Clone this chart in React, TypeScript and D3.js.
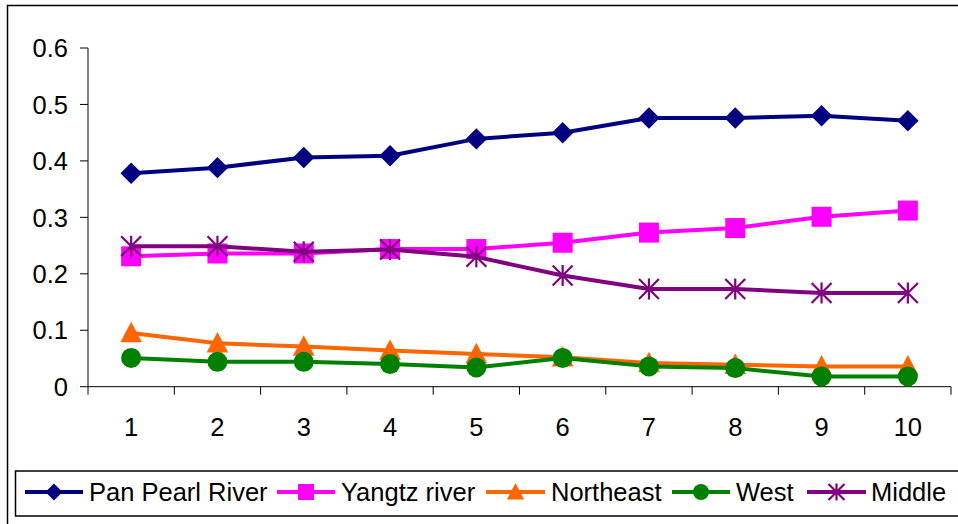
import React from "react";
import * as d3 from "d3";

const categories = ["1", "2", "3", "4", "5", "6", "7", "8", "9", "10"];
const yTicks = [0, 0.1, 0.2, 0.3, 0.4, 0.5, 0.6];

const panPearl = [0.378, 0.388, 0.406, 0.409, 0.439, 0.45, 0.476, 0.476, 0.48, 0.471];
const yangtz = [0.231, 0.236, 0.236, 0.244, 0.244, 0.255, 0.273, 0.281, 0.301, 0.312];
const northeast = [0.095, 0.077, 0.071, 0.064, 0.058, 0.052, 0.042, 0.039, 0.036, 0.036];
const west = [0.051, 0.044, 0.044, 0.04, 0.034, 0.051, 0.036, 0.033, 0.018, 0.018];
const middle = [0.249, 0.249, 0.239, 0.243, 0.23, 0.197, 0.173, 0.173, 0.166, 0.166];

const seriesNames = ["Pan Pearl River", "Yangtz river", "Northeast", "West", "Middle"];
const seriesColors = ["#000080", "#FF00FF", "#FF6600", "#008000", "#800080"];
const seriesShapes = ["diamond", "square", "triangle", "circle", "star"];
const seriesValues = [panPearl, yangtz, northeast, west, middle];

const FONT = "'Liberation Sans', Arial, sans-serif";

function Marker({ shape, x, y, color, s }: { shape: string; x: number; y: number; color: string; s: number }) {
  if (shape === "diamond") {
    const r = 10.7 * s;
    return <path d={`M${x},${y - r}L${x + r},${y}L${x},${y + r}L${x - r},${y}Z`} fill={color} />;
  }
  if (shape === "square") {
    const r = 10 * s;
    return <rect x={x - r} y={y - r} width={2 * r} height={2 * r} fill={color} />;
  }
  if (shape === "triangle") {
    const w = 10.8 * s;
    const h = 20.5 * s;
    return <path d={`M${x},${y - h * 0.55}L${x + w},${y + h * 0.45}L${x - w},${y + h * 0.45}Z`} fill={color} />;
  }
  if (shape === "circle") {
    return <circle cx={x} cy={y} r={10 * s} fill={color} />;
  }
  const r = 10.5 * s;
  const d = r * 0.95;
  return (
    <path
      d={`M${x},${y - r}L${x},${y + r}M${x - d},${y - d}L${x + d},${y + d}M${x - d},${y + d}L${x + d},${y - d}`}
      stroke={color}
      strokeWidth={2.2}
      fill="none"
    />
  );
}

export default function App() {
  const W = 958;
  const H = 524;
  const left = 88;
  const right = 951;
  const top = 48;
  const bottom = 386.7;

  const x = d3.scalePoint<string>().domain(categories).range([left, right]).padding(0.5);
  const y = d3.scaleLinear().domain([0, 0.6]).range([bottom, top]);
  const step = (right - left) / categories.length;

  const line = d3
    .line<number>()
    .x((_, i) => x(categories[i]) as number)
    .y((v) => y(v));

  const legendLineStart = [25, 277, 486, 672, 807];
  const legendLineEnd = [83, 335, 545, 730, 866];
  const legendTextX = [89, 341, 551, 736, 871];
  const legendY = 492;

  return (
    <svg
      width={W}
      height={H}
      style={{ position: "absolute", left: 0, top: 0, display: "block" }}
      fontFamily={FONT}
    >
      <rect x={0} y={0} width={W} height={H} fill="#fff" />
      {/* outer border */}
      <path d={`M${W + 2},5.5H7.5V${H + 2}`} fill="none" stroke="#000" strokeWidth={1.5} />

      {/* y axis */}
      <line x1={left} x2={left} y1={top} y2={bottom} stroke="#000" strokeWidth={1} />
      {yTicks.map((t) => (
        <g key={t}>
          <line x1={left - 8} x2={left} y1={y(t)} y2={y(t)} stroke="#000" />
          <text x={68} y={y(t)} dy="0.36em" textAnchor="end" fontSize={25.5} fill="#000">
            {t === 0 ? "0" : d3.format(".1f")(t)}
          </text>
        </g>
      ))}

      {/* x axis */}
      <line x1={left} x2={right} y1={bottom} y2={bottom} stroke="#000" strokeWidth={1} />
      {d3.range(categories.length + 1).map((i) => (
        <line key={i} x1={left + i * step} x2={left + i * step} y1={bottom} y2={bottom + 8} stroke="#000" />
      ))}
      {categories.map((c) => (
        <text key={c} x={x(c)} y={427} dy="0.36em" textAnchor="middle" fontSize={25.5} fill="#000">
          {c}
        </text>
      ))}

      {/* series */}
      {seriesValues.map((vals, si) => (
        <g key={si}>
          <path d={line(vals) || ""} fill="none" stroke={seriesColors[si]} strokeWidth={4} strokeLinejoin="round" />
          {vals.map((v, i) => (
            <Marker key={i} shape={seriesShapes[si]} x={x(categories[i]) as number} y={y(v)} color={seriesColors[si]} s={1} />
          ))}
        </g>
      ))}

      {/* legend */}
      <rect x={15.5} y={471} width={W} height={45} fill="#fff" stroke="#000" strokeWidth={1.5} />
      {seriesNames.map((n, si) => (
        <g key={n}>
          <line
            x1={legendLineStart[si]}
            x2={legendLineEnd[si]}
            y1={legendY}
            y2={legendY}
            stroke={seriesColors[si]}
            strokeWidth={4}
          />
          <Marker
            shape={seriesShapes[si]}
            x={(legendLineStart[si] + legendLineEnd[si]) / 2}
            y={legendY}
            color={seriesColors[si]}
            s={0.8}
          />
          <text x={legendTextX[si]} y={legendY} dy="0.36em" fontSize={25.5} fill="#000">
            {n}
          </text>
        </g>
      ))}
    </svg>
  );
}
